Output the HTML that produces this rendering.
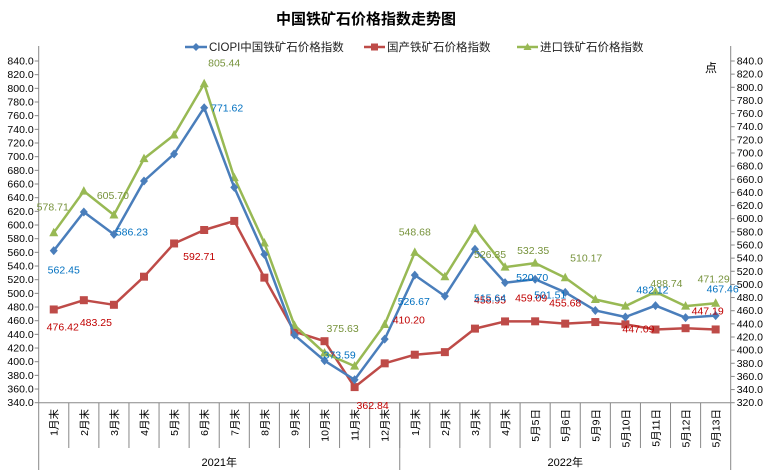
<!DOCTYPE html>
<html><head><meta charset="utf-8">
<style>
body{margin:0;background:#fff;}
svg{display:block;font-family:"Liberation Sans","Noto Sans CJK SC",sans-serif;}
</style></head>
<body>
<svg id="chart" width="772" height="473" viewBox="0 0 772 473">
<text x="366" y="24" text-anchor="middle" font-size="15" font-weight="bold" fill="#000">中国铁矿石价格指数走势图</text>
<g>
 <g>
  <line x1="185" y1="47" x2="207" y2="47" stroke="#4a7ebb" stroke-width="2.5"/>
  <path d="M196 43 L200 47 L196 51 L192 47Z" fill="#4a7ebb"/>
  <text x="209" y="51" font-size="11.5" fill="#222">CIOPI中国铁矿石价格指数</text>
 </g>
 <g>
  <line x1="364" y1="47" x2="385" y2="47" stroke="#be4b48" stroke-width="2.5"/>
  <rect x="371" y="43.5" width="7" height="7" fill="#be4b48"/>
  <text x="387" y="51" font-size="11.5" fill="#222">国产铁矿石价格指数</text>
 </g>
 <g>
  <line x1="517" y1="47" x2="538" y2="47" stroke="#98b954" stroke-width="2.5"/>
  <path d="M527.5 43 L531.5 50 L523.5 50Z" fill="#98b954"/>
  <text x="540" y="51" font-size="11.5" fill="#222">进口铁矿石价格指数</text>
 </g>
</g>
<text x="711" y="72" font-size="12" text-anchor="middle" fill="#000">点</text>
<g id="axes"></g>
<g id="series"></g>
<g id="labels"></g>
</svg>
<script>
const categories=["1月末","2月末","3月末","4月末","5月末","6月末","7月末","8月末","9月末","10月末","11月末","12月末","1月末","2月末","3月末","4月末","5月5日","5月6日","5月9日","5月10日","5月11日","5月12日","5月13日"];
const years=["2021年","2022年"];
const yearSpans=[12,11];
const ciopi=[562.45,619,586.23,664.4,704,771.62,655,557,439,401.5,373.59,433,526.67,496,564.5,515.64,520.70,501.51,475,465.4,482.12,464.4,467.46];
const domestic=[476.42,490,483.25,524.4,573,592.71,606,523,444,430,362.84,397.6,410.20,414,448.4,458.95,459.09,455.68,458,454.7,447.09,449,447.19];
const imported=[578.71,642,605.70,691.4,727.4,805.44,662.5,563,437.7,395.6,375.63,439,548.68,511.6,585,526.35,532.35,510.17,477,467,488.74,467,471.29];
const leftTicks=[340,360,380,400,420,440,460,480,500,520,540,560,580,600,620,640,660,680,700,720,740,760,780,800,820,840];
const rightTicks=[320,340,360,380,400,420,440,460,480,500,520,540,560,580,600,620,640,660,680,700,720,740,760,780,800,820,840];
// labelled points: index, dx, dy
const ciopiLabels=[[0,10,19],[2,18,-3],[5,23,0],[10,-15,-25],[12,-1,26],[15,-15,15],[16,-3,-2],[17,-15,2],[20,-3,-16],[22,7,-27]];
const domesticLabels=[[0,9,17],[2,-18,17],[5,-5,26],[10,18,18],[12,-6,-35],[15,-15,-22],[16,-4,-24],[17,0,-21],[20,-17,-1],[22,-8,-19]];
const importedLabels=[[0,-1,-26],[2,-1,-20],[5,20,-21],[10,-12,-38],[12,0,-21],[15,-15,-13],[16,-2,-13],[17,21,-20],[20,11,-9],[22,-2,-25]];

const NS="http://www.w3.org/2000/svg";
const X0=38.7,X1=730.7,YT=61,YB=402.7;
const cw=(X1-X0)/categories.length;
function xc(i){return X0+cw*(i+0.5);}
function yl(v){return YB-(v-340)/(840-340)*(YB-YT);}
function yr(v){return YB-(v-320)/(840-320)*(YB-YT);}
function mk(tag,attrs,parent){const e=document.createElementNS(NS,tag);for(const k in attrs)e.setAttribute(k,attrs[k]);parent.appendChild(e);return e;}
const axes=document.getElementById('axes');
// axes lines
let a=mk('line',{x1:X0,y1:YT-15,x2:X0,y2:YB,stroke:'#888'},axes);

a=mk('line',{x1:X1,y1:YT-15,x2:X1,y2:YB,stroke:'#888'},axes);

a=mk('line',{x1:X0,y1:YB,x2:X1,y2:YB,stroke:'#888'},axes);

leftTicks.forEach(v=>{const y=yl(v);
 mk('line',{x1:X0-4,y1:y,x2:X0,y2:y,stroke:'#888'},axes);
 const t=mk('text',{x:X0-5,y:y+3.5,'text-anchor':'end','font-size':'10.5',fill:'#000'},axes);t.textContent=v.toFixed(1);
 });
rightTicks.forEach(v=>{const y=yr(v);
 mk('line',{x1:X1,y1:y,x2:X1+4,y2:y,stroke:'#888'},axes);
 const t=mk('text',{x:X1+6,y:y+3.5,'font-size':'10.5',fill:'#000'},axes);t.textContent=v.toFixed(1);
 });
categories.forEach((c,i)=>{
 if(i>0) mk('line',{x1:X0+cw*i,y1:YB,x2:X0+cw*i,y2:448,stroke:'#888'},axes);
 const x=xc(i)+4;const t=mk('text',{x:0,y:0,transform:`translate(${x},409) rotate(-90)`,'text-anchor':'end','font-size':'10.5',fill:'#000'},axes);t.textContent=c;
 });
let start=0;
mk('line',{x1:X0,y1:YB,x2:X0,y2:470,stroke:'#888'},axes);
years.forEach((yname,k)=>{const end=start+yearSpans[k];
 mk('line',{x1:X0+cw*end,y1:YB,x2:X0+cw*end,y2:470,stroke:'#888'},axes);
 const t=mk('text',{x:X0+cw*(start+end)/2,y:466,'text-anchor':'middle','font-size':'11',fill:'#000'},axes);t.textContent=yname;
 
 start=end;});
const ser=document.getElementById('series'),lab=document.getElementById('labels');
function drawSeries(vals,yf,color,marker,name,labels,lcolor){
 const g=mk('g',{},ser);
 const pts=vals.map((v,i)=>xc(i)+','+yf(v)).join(' ');
 const p=mk('polyline',{points:pts,fill:'none',stroke:color,'stroke-width':'2.5','stroke-linejoin':'round'},g);
 
 vals.forEach((v,i)=>{const x=xc(i),y=yf(v);let m;
  if(marker==='d')m=mk('path',{d:`M${x} ${y-4.5}L${x+4} ${y}L${x} ${y+4.5}L${x-4} ${y}Z`,fill:color},g);
  else if(marker==='s')m=mk('rect',{x:x-4,y:y-4,width:8,height:8,fill:color},g);
  else m=mk('path',{d:`M${x} ${y-5}L${x+4.5} ${y+3.5}L${x-4.5} ${y+3.5}Z`,fill:color},g);
  });
 labels.forEach(([i,dx,dy])=>{const t=mk('text',{x:xc(i)+dx,y:yf(vals[i])+dy+4,'text-anchor':'middle','font-size':'10.5',fill:lcolor},lab);
  t.textContent=vals[i].toFixed(2);});
}
drawSeries(domestic,yl,'#be4b48','s','domestic',domesticLabels,'#c00000');
drawSeries(imported,yr,'#98b954','t','imported',importedLabels,'#77933c');
drawSeries(ciopi,yl,'#4a7ebb','d','ciopi',ciopiLabels,'#0070c0');
</script>
</body></html>
